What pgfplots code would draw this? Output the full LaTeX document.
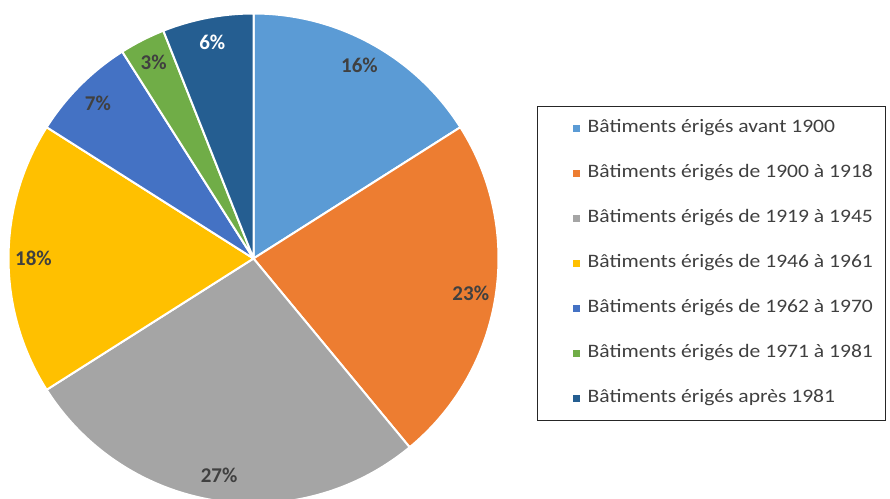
\documentclass[border=0pt]{standalone}
\usepackage{pgfplots}
\usepackage{pgfplotstable}
\pgfplotsset{compat=1.18}
\usepackage{fontspec}
\setmainfont{Carlito}
\newfontfamily\legfont[FakeStretch=1.135]{Carlito}
\definecolor{c1}{HTML}{5B9BD5}
\definecolor{c2}{HTML}{ED7D31}
\definecolor{c3}{HTML}{A5A5A5}
\definecolor{c4}{HTML}{FFC000}
\definecolor{c5}{HTML}{4472C4}
\definecolor{c6}{HTML}{70AD47}
\definecolor{c7}{HTML}{255E91}
\definecolor{textgray}{HTML}{404040}

\pgfplotstableread{
value fillc textc
16 c1 textgray
23 c2 textgray
27 c3 textgray
18 c4 textgray
7 c5 textgray
3 c6 textgray
6 c7 white
}\piedata

\tikzset{pielabel/.style={font=\fontsize{15.75bp}{18bp}\selectfont\bfseries, inner sep=0pt}}

\begin{document}
\begin{tikzpicture}
\begin{axis}[
  x=0.75bp, y=0.75bp,
  xmin=0, xmax=890, ymin=0, ymax=499,
  hide axis,
  legend cell align=left,
  legend image code/.code={%
    \path (-16.5bp,0bp);
    \fill[#1] (0bp,-2.8bp) rectangle (5.6bp,2.8bp);
  },
  legend style={
    at={(axis cs:537,393)}, anchor=north west,
    draw=black!85, line width=0.75bp,
    inner xsep=9.75bp, inner ysep=10.8bp,
    font=\legfont\fontsize{14.25bp}{16bp}\selectfont,
    text=textgray,
    row sep=22.35bp,
    nodes={inner sep=0pt, text height=9bp, text depth=2.4bp},
    /tikz/every odd column/.append style={column sep=5.8bp},
  },
]
\gdef\cum{0}
\pgfplotsinvokeforeach{0,...,6}{%
  \pgfplotstablegetelem{#1}{value}\of\piedata \let\v\pgfplotsretval
  \pgfplotstablegetelem{#1}{fillc}\of\piedata \let\fc\pgfplotsretval
  \pgfplotstablegetelem{#1}{textc}\of\piedata \let\tc\pgfplotsretval
  \pgfmathsetmacro\sa{90-3.6*\cum}
  \pgfmathsetmacro\ea{90-3.6*(\cum+\v)}
  \pgfmathsetmacro\ma{(\sa+\ea)/2}
  \pgfmathparse{\cum+\v}\xdef\cum{\pgfmathresult}
  \edef\slice{\noexpand\fill[fill=\fc,draw=white,line width=1.5bp,line join=round] (axis cs:253.5,240.5) -- ++(\sa:183.75bp) arc[start angle=\sa,end angle=\ea,radius=183.75bp] -- cycle;}
  \slice
  \edef\lab{\noexpand\path (axis cs:253.5,240.5) ++(\ma:165bp) node[pielabel,text=\tc] {\v\noexpand\%};}
  \lab
}
\addlegendimage{fill=c1,draw=none}
\addlegendentry{Bâtiments érigés avant 1900}
\addlegendimage{fill=c2,draw=none}
\addlegendentry{Bâtiments érigés de 1900 à 1918}
\addlegendimage{fill=c3,draw=none}
\addlegendentry{Bâtiments érigés de 1919 à 1945}
\addlegendimage{fill=c4,draw=none}
\addlegendentry{Bâtiments érigés de 1946 à 1961}
\addlegendimage{fill=c5,draw=none}
\addlegendentry{Bâtiments érigés de 1962 à 1970}
\addlegendimage{fill=c6,draw=none}
\addlegendentry{Bâtiments érigés de 1971 à 1981}
\addlegendimage{fill=c7,draw=none}
\addlegendentry{Bâtiments érigés après 1981}
\end{axis}
\pgfresetboundingbox
\path[use as bounding box] (0,0) rectangle (667.5bp,374.25bp);
\end{tikzpicture}
\end{document}
